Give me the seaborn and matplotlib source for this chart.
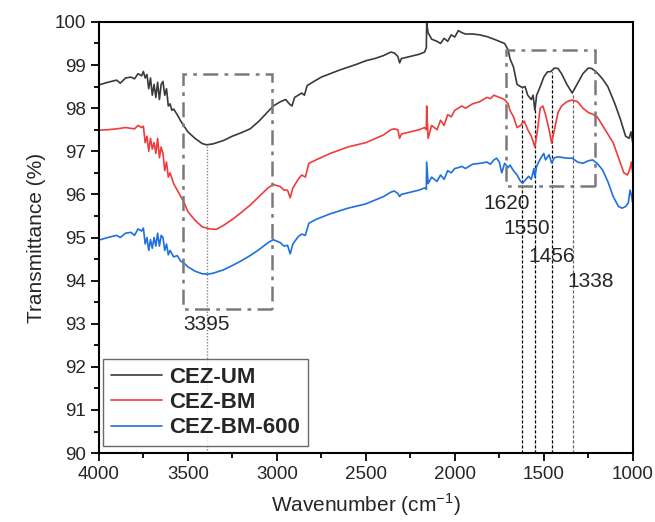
import numpy as np
import pandas as pd
import matplotlib
matplotlib.use("Agg")
import matplotlib.pyplot as plt
import seaborn as sns
from matplotlib.ticker import MultipleLocator
from matplotlib.patches import Rectangle

sns.set_style("ticks")
plt.rcParams['font.family'] = ['Liberation Sans', 'DejaVu Sans']
plt.rcParams['mathtext.fontset'] = 'custom'
plt.rcParams['mathtext.rm'] = 'Liberation Sans'

series_names = ["CEZ-UM", "CEZ-BM", "CEZ-BM-600"]
series_colors = ["#3a3a3a", "#f03c3c", "#1e6fe0"]

um_wn = [4000, 3950, 3900, 3880, 3850, 3820, 3800, 3780, 3760, 3750, 3740, 3730, 3720, 3710, 3700, 3690, 3680,
         3670, 3660, 3650, 3640, 3630, 3620, 3610, 3600, 3590, 3580, 3560, 3540, 3500, 3460, 3420, 3395, 3360,
         3300, 3250, 3200, 3150, 3100, 3050, 3020, 2980, 2950, 2930, 2915, 2900, 2880, 2860, 2845, 2830, 2800,
         2750, 2700, 2650, 2600, 2550, 2500, 2450, 2400, 2360, 2340, 2320, 2310, 2300, 2250, 2200, 2170, 2160,
         2158, 2150, 2130, 2100, 2080, 2060, 2040, 2020, 2000, 1980, 1960, 1940, 1900, 1860, 1820, 1780, 1750,
         1720, 1700, 1690, 1670, 1650, 1630, 1620, 1605, 1590, 1570, 1560, 1550, 1540, 1520, 1500, 1480, 1460,
         1440, 1420, 1400, 1370, 1340, 1320, 1280, 1250, 1230, 1200, 1170, 1140, 1100, 1070, 1040, 1020, 1010, 1000]
um_t = [98.54, 98.6, 98.65, 98.58, 98.7, 98.72, 98.68, 98.8, 98.75, 98.85, 98.7, 98.78, 98.45, 98.7, 98.3, 98.55,
        98.25, 98.6, 98.2, 98.55, 98.62, 98.3, 98.45, 98.05, 98.1, 97.95, 97.98, 97.85, 97.7, 97.45, 97.3, 97.18,
        97.15, 97.17, 97.25, 97.35, 97.43, 97.52, 97.7, 97.92, 98.05, 98.15, 98.2, 98.1, 98.05, 98.25, 98.3, 98.35,
        98.3, 98.52, 98.6, 98.72, 98.8, 98.88, 98.95, 99.02, 99.1, 99.15, 99.22, 99.3, 99.28, 99.2, 99.05, 99.15,
        99.2, 99.25, 99.3, 99.4, 99.97, 99.75, 99.6, 99.55, 99.5, 99.62, 99.55, 99.7, 99.65, 99.8, 99.75, 99.72,
        99.72, 99.7, 99.66, 99.6, 99.55, 99.5, 99.35, 99.15, 98.95, 98.55, 98.5, 98.48, 98.5, 98.3, 98.2, 98.3,
        97.95, 98.3, 98.5, 98.72, 98.84, 98.85, 98.93, 98.92, 98.8, 98.55, 98.35, 98.5, 98.8, 98.93, 98.92, 98.82,
        98.68, 98.5, 98.1, 97.75, 97.35, 97.3, 97.45, 97.2]

bm_wn = [4000, 3950, 3900, 3850, 3800, 3780, 3760, 3750, 3740, 3730, 3720, 3710, 3700, 3690, 3680, 3670, 3660,
         3650, 3640, 3630, 3620, 3610, 3600, 3580, 3560, 3540, 3520, 3500, 3460, 3420, 3380, 3340, 3300, 3250,
         3200, 3150, 3100, 3050, 3020, 2980, 2960, 2940, 2925, 2910, 2880, 2860, 2840, 2820, 2780, 2700, 2600,
         2500, 2400, 2360, 2340, 2320, 2310, 2300, 2250, 2200, 2170, 2160, 2158, 2150, 2130, 2100, 2080, 2060,
         2040, 2020, 2000, 1980, 1960, 1940, 1900, 1860, 1820, 1800, 1780, 1750, 1720, 1700, 1690, 1670, 1650,
         1630, 1610, 1590, 1570, 1550, 1535, 1520, 1505, 1490, 1470, 1456, 1440, 1420, 1400, 1370, 1340, 1310,
         1280, 1250, 1220, 1200, 1170, 1140, 1110, 1080, 1050, 1030, 1015, 1008, 1000]
bm_t = [97.49, 97.5, 97.52, 97.55, 97.52, 97.6, 97.55, 97.58, 97.2, 97.35, 97.0, 97.3, 97.05, 97.2, 96.95, 97.3,
        96.85, 97.1, 96.95, 96.55, 96.75, 96.4, 96.5, 96.25, 96.1, 95.95, 95.8, 95.6, 95.4, 95.25, 95.2, 95.19,
        95.28, 95.42, 95.58, 95.75, 95.95, 96.15, 96.23, 96.18, 96.1, 96.1, 95.92, 96.15, 96.35, 96.45, 96.4,
        96.72, 96.8, 96.95, 97.1, 97.2, 97.38, 97.5, 97.52, 97.5, 97.3, 97.4, 97.45, 97.5, 97.55, 97.5, 98.05,
        97.3, 97.6, 97.5, 97.72, 97.6, 97.85, 97.8, 97.95, 98.0, 98.05, 98.0, 98.1, 98.15, 98.25, 98.22, 98.3,
        98.25, 98.2, 98.1, 97.95, 97.8, 97.55, 97.6, 97.7, 97.5, 97.35, 97.1, 97.5, 98.0, 98.05, 97.85, 97.5,
        97.19, 97.5, 97.9, 98.05, 98.15, 98.19, 98.15, 98.0, 97.9, 97.85, 97.8, 97.6, 97.4, 97.2, 96.85, 96.5,
        96.45, 96.6, 96.75, 96.5]

b6_wn = [4000, 3950, 3900, 3880, 3850, 3820, 3800, 3780, 3760, 3750, 3740, 3730, 3720, 3710, 3700, 3690, 3680,
         3670, 3660, 3650, 3640, 3630, 3620, 3610, 3600, 3580, 3560, 3540, 3520, 3500, 3460, 3420, 3390, 3360,
         3300, 3250, 3200, 3150, 3100, 3050, 3020, 2980, 2960, 2940, 2925, 2910, 2880, 2860, 2840, 2820, 2780,
         2700, 2600, 2500, 2400, 2360, 2340, 2320, 2310, 2300, 2250, 2200, 2170, 2160, 2158, 2150, 2130, 2100,
         2080, 2060, 2040, 2020, 2000, 1980, 1960, 1940, 1900, 1860, 1820, 1800, 1780, 1765, 1750, 1736, 1720,
         1700, 1690, 1670, 1650, 1630, 1620, 1600, 1585, 1570, 1555, 1550, 1540, 1520, 1500, 1490, 1470, 1456,
         1440, 1420, 1400, 1370, 1340, 1310, 1280, 1250, 1225, 1200, 1170, 1140, 1110, 1080, 1060, 1040, 1025,
         1015, 1008, 1000]
b6_t = [94.94, 95.0, 95.05, 95.0, 95.1, 95.12, 95.05, 95.2, 95.15, 95.22, 94.85, 95.0, 94.7, 94.95, 94.75, 95.0,
        94.8, 95.1, 94.8, 95.05, 95.0, 94.7, 94.85, 94.6, 94.7, 94.55, 94.58, 94.45, 94.4, 94.32, 94.22, 94.16,
        94.15, 94.17, 94.25, 94.35, 94.46, 94.58, 94.72, 94.88, 94.95, 94.88, 94.8, 94.82, 94.62, 94.85, 95.02,
        95.08, 95.05, 95.33, 95.42, 95.55, 95.68, 95.78, 95.95, 96.05, 96.08, 96.02, 95.95, 96.0, 96.05, 96.1,
        96.15, 96.12, 96.75, 96.25, 96.4, 96.3, 96.45, 96.35, 96.55, 96.5, 96.6, 96.62, 96.65, 96.6, 96.7, 96.72,
        96.75, 96.7, 96.8, 96.84, 96.75, 96.5, 96.72, 96.62, 96.68, 96.55, 96.45, 96.3, 96.26, 96.35, 96.42,
        96.35, 96.6, 96.4, 96.65, 96.82, 96.95, 96.8, 96.92, 96.73, 96.85, 96.87, 96.86, 96.84, 96.84, 96.75,
        96.72, 96.78, 96.8, 96.72, 96.57, 96.3, 95.95, 95.72, 95.68, 95.72, 95.8, 96.1, 96.0, 95.8]

peak_main = 3395
peaks_right = [1620, 1550, 1456, 1338]
peak_tops = [98.48, 97.95, 98.85, 98.35]
peak_colors = ["black", "black", "black", "#666666"]
peak_label_pos = [(1710, 95.8), (1595, 95.22), (1455, 94.55), (1238, 93.97)]

df = pd.concat([
    pd.DataFrame({"wn": um_wn, "T": um_t, "sample": series_names[0]}),
    pd.DataFrame({"wn": bm_wn, "T": bm_t, "sample": series_names[1]}),
    pd.DataFrame({"wn": b6_wn, "T": b6_t, "sample": series_names[2]}),
])

fig = plt.figure(figsize=(6.55, 5.22), dpi=100)
ax = fig.add_axes([0.151, 0.132, 0.815, 0.826])

sns.lineplot(data=df, x="wn", y="T", hue="sample", hue_order=series_names,
             palette=series_colors, sort=False, estimator=None, linewidth=1.2, ax=ax)

ax.set_xlim(4000, 1000)
ax.set_ylim(90, 100)

# boxes
ax.add_patch(Rectangle((3030, 93.35), 500, 5.45, fill=False, edgecolor="#7a7a7a",
                       linestyle=(0, (6, 2.5, 1.5, 2.5)), linewidth=1.8, zorder=5))
ax.add_patch(Rectangle((1210, 96.2), 500, 3.15, fill=False, edgecolor="#7a7a7a",
                       linestyle=(0, (6, 2.5, 1.5, 2.5)), linewidth=1.8, zorder=5))

# peak lines
ax.plot([peak_main, peak_main], [90, 97.15], color="#888888", linestyle=(0, (1, 1.2)), linewidth=1.0, zorder=1)
ax.text(peak_main, 92.98, str(peak_main), ha="center", va="center", fontsize=15)
for p, top, c, (lx, ly) in zip(peaks_right, peak_tops, peak_colors, peak_label_pos):
    ax.plot([p, p], [90, top], color=c, linestyle=(0, (2.5, 1.5)), linewidth=0.9, zorder=1)
    ax.text(lx, ly, str(p), ha="center", va="center", fontsize=15)

ax.xaxis.set_major_locator(MultipleLocator(500))
ax.xaxis.set_minor_locator(MultipleLocator(250))
ax.yaxis.set_major_locator(MultipleLocator(1))
ax.yaxis.set_minor_locator(MultipleLocator(0.5))
ax.tick_params(which="major", direction="out", length=6, width=1.3, labelsize=13.5, color="black")
ax.tick_params(which="minor", direction="out", length=3.5, width=1.3, color="black")
for s in ax.spines.values():
    s.set_linewidth(1.5)
    s.set_color("black")

ax.set_xlabel("Wavenumber (cm$^{-1}$)", fontsize=15, labelpad=6)
ax.set_ylabel("Transmittance (%)", fontsize=15, labelpad=6)

leg = ax.legend(loc="lower left", bbox_to_anchor=(0.0075, 0.016), borderaxespad=0,
                frameon=True, fancybox=False, edgecolor="#444444", handlelength=2.3,
                prop={"weight": "bold", "size": 16}, labelspacing=0.2, borderpad=0.35,
                handletextpad=0.35)
leg.get_frame().set_linewidth(1.0)
for h in leg.get_lines():
    h.set_linewidth(1.2)

fig.savefig("out.png", dpi=100)
